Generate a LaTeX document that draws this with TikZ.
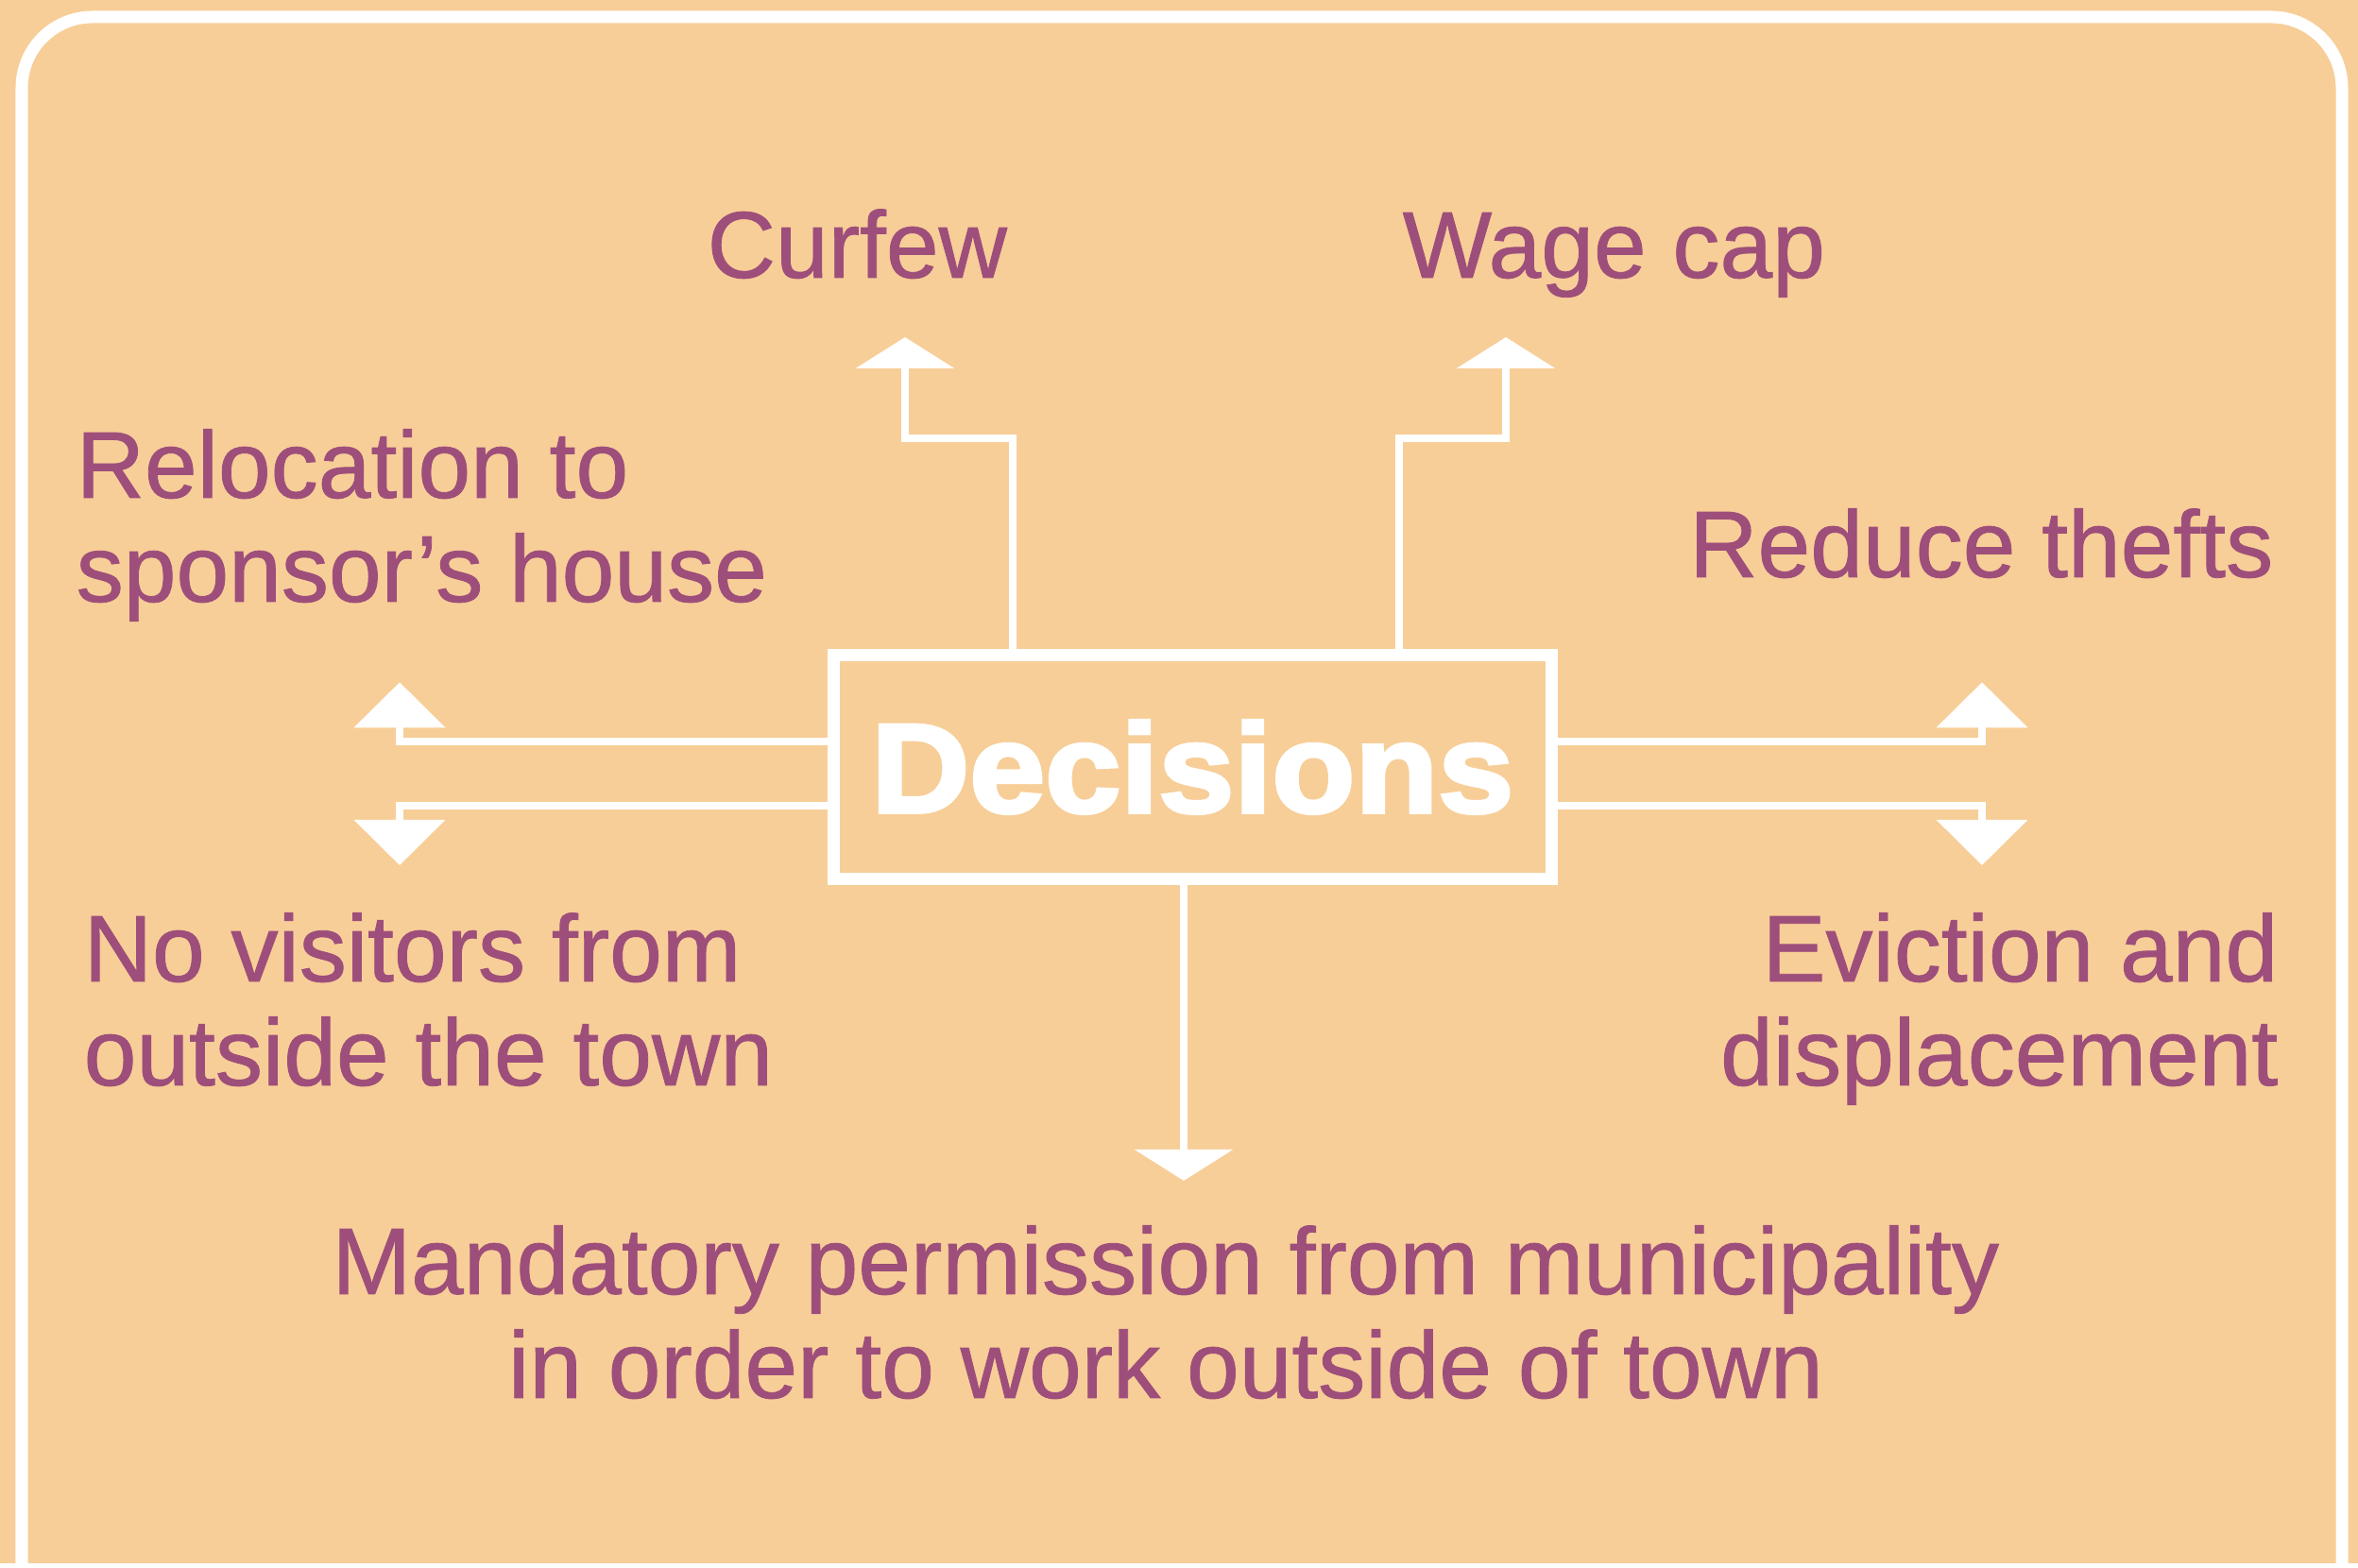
\documentclass[tikz,border=0pt]{standalone}
\usepackage{fontspec}
\setmainfont{Liberation Sans}[FakeBold=0.8]
\newfontfamily\decfont[FakeBold=3,FakeStretch=1.075]{Liberation Sans Bold}
\usetikzlibrary{arrows.meta}
\definecolor{bg}{RGB}{247,206,152}
\definecolor{txt}{RGB}{158,78,122}
\tikzset{
  lbl/.style={text=txt, inner sep=0pt, font=\fontsize{28.5}{31.3}\selectfont},
  conn/.style={draw=white, line width=0.08cm, line join=miter},
  tipv/.style={-{Triangle[width=1.03cm,length=0.33cm]}},
  tips/.style={-{Triangle[width=0.95cm,length=0.48cm]}},
  decbox/.style={draw=white, line width=0.13cm, minimum width=7.593cm, minimum height=2.366cm,
    inner sep=0pt, text=white, font=\decfont\fontsize{38.1}{40}\selectfont},
  frame/.style={draw=white, line width=0.13cm}
}
\begin{document}
\begin{tikzpicture}
\useasboundingbox (0,0) rectangle (24.96,16.6);
\fill[bg] (0,0) rectangle (24.96,16.6);
% outer frame
\draw[frame] (0.23,-0.5) [rounded corners=0.75cm] -- (0.23,16.42) -- (24.79,16.42) -- (24.79,-0.5);
\draw[frame] (0,-0.015) -- (24.96,-0.015);

% central box
\node[decbox] (dec) at (12.6235,8.48) {Decisions};

% connector coordinates
\coordinate (cfA) at (10.72,11.96);
\coordinate (cfB) at (9.58,11.96);
\coordinate (cfT) at (9.58,13.03);
\coordinate (wcA) at (14.805,11.96);
\coordinate (wcB) at (15.94,11.96);
\coordinate (wcT) at (15.94,13.03);
\coordinate (luA) at (4.23,8.745);
\coordinate (luT) at (4.23,9.377);
\coordinate (ldA) at (4.23,8.07);
\coordinate (ldT) at (4.23,7.44);
\coordinate (ruA) at (20.98,8.745);
\coordinate (ruT) at (20.98,9.377);
\coordinate (rdA) at (20.98,8.07);
\coordinate (rdT) at (20.98,7.44);
\coordinate (dnT) at (12.53,4.10);

% connectors
\draw[conn,tipv] (dec.north -| cfA) -- (cfA) -- (cfB) -- (cfT);
\draw[conn,tipv] (dec.north -| wcA) -- (wcA) -- (wcB) -- (wcT);
\draw[conn,tips] (dec.west |- luA) -- (luA) -- (luT);
\draw[conn,tips] (dec.west |- ldA) -- (ldA) -- (ldT);
\draw[conn,tips] (dec.east |- ruA) -- (ruA) -- (ruT);
\draw[conn,tips] (dec.east |- rdA) -- (rdA) -- (rdT);
\draw[conn,tipv] (dec.south -| dnT) -- (dnT);

% labels (multi-line nodes: base = baseline of last line)
\node[lbl, anchor=base west] (curfew) at (7.48,13.66) {Curfew};
\node[lbl, anchor=base west] (wage) at (14.84,13.66) {Wage cap};
\node[lbl, anchor=base west, align=left] (reloc) at (0.80,10.23) {Relocation to\\sponsor’s house};
\node[lbl, anchor=base east] (reduce) at (24.07,10.49) {Reduce thefts};
\node[lbl, anchor=base west, align=left] (novis) at (0.88,5.11) {No visitors from\\outside the town};
\node[lbl, anchor=base east, align=right] (evict) at (24.12,5.11) {Eviction and\\displacement};
\node[lbl, anchor=base, align=center] (mand) at (12.34,1.80) {Mandatory permission from municipality\\in order to work outside of town};
\end{tikzpicture}
\end{document}
